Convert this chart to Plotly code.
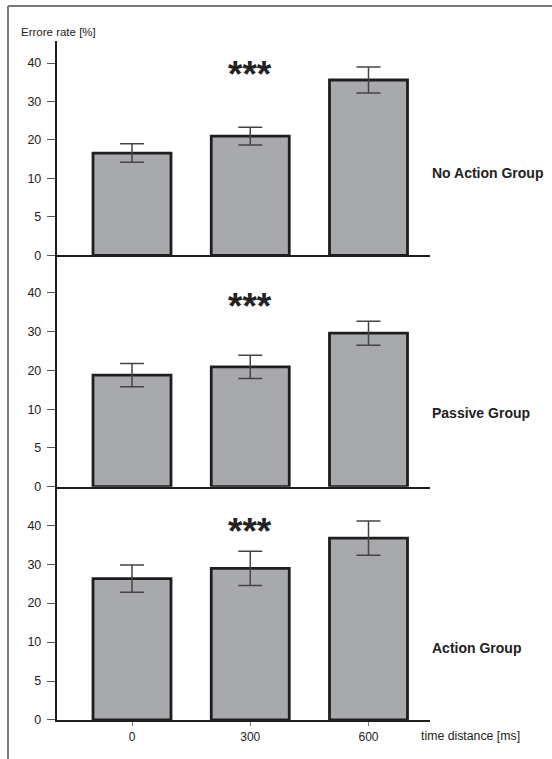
import numpy as np
import plotly.graph_objects as go

# ---- data -------------------------------------------------------------
time_labels = ["0", "300", "600"]
groups = ["No Action Group", "Passive Group", "Action Group"]

no_action_rate = [16.6, 21.0, 35.6]
no_action_sem = [2.4, 2.3, 3.4]

passive_rate = [18.8, 20.9, 29.6]
passive_sem = [3.0, 3.0, 3.1]

action_rate = [26.3, 28.9, 36.7]
action_sem = [3.5, 4.4, 4.4]

significance = ["***", "***", "***"]

y_tick_values = [0, 5, 10, 20, 30, 40]

# ---- the y scale: equal spacing between successive tick values ----------
tick_pos = np.arange(len(y_tick_values), dtype=float)


def to_axis(v):
    v = np.asarray(v, dtype=float)
    out = np.interp(v, y_tick_values, tick_pos)
    above = v > y_tick_values[-1]
    slope = 1.0 / (y_tick_values[-1] - y_tick_values[-2])
    out[above] = tick_pos[-1] + (v[above] - y_tick_values[-1]) * slope
    return out


# ---- layout geometry ---------------------------------------------------------
W = 552
H_LAYOUT = 767          # figure height requested from plotly
H = 759                 # visible page height used for placing things (px)
FONT = "Liberation Sans, Arial, Helvetica, sans-serif"


def py(px):
    """paper y fraction for a pixel row measured from the top"""
    return 1 - px / H


x_left, x_right = 57, 430            # x-axis extent (px)
bar_centres = [132, 250.25, 368.5]  # px positions of the three categories
unit = bar_centres[1] - bar_centres[0]
x_range = [(x_left - bar_centres[0]) / unit, (x_right - bar_centres[0]) / unit]

panel_zero = [255, 486, 719]        # px of each panel's baseline
panel_top = [41, 255, 486]          # px of each panel's top
px_per_step = [38.4, 38.7, 38.9]
label_y = [173, 412, 647]
star_y = [70, 302, 527]

series = [
    (no_action_rate, no_action_sem),
    (passive_rate, passive_sem),
    (action_rate, action_sem),
]

fig = go.Figure()
layout = dict(
    width=W, height=H_LAYOUT, autosize=False,
    margin=dict(l=0, r=0, t=0, b=0),
    paper_bgcolor="white",
    plot_bgcolor="white",
    showlegend=False,
    bargap=1 - 78 / unit,
    font=dict(family=FONT, color="#222"),
)

annotations = []
for i, (rate, sem) in enumerate(series):
    k = "" if i == 0 else str(i + 1)
    rate = np.asarray(rate)
    sem = np.asarray(sem)
    y = to_axis(rate)
    err_hi = to_axis(rate + sem) - y
    err_lo = y - to_axis(rate - sem)

    fig.add_trace(go.Bar(
        x=time_labels, y=y,
        xaxis="x" + k, yaxis="y" + k,
        marker=dict(color="#a8a9ac", line=dict(color="#1e1e1e", width=2.8)),
        error_y=dict(type="data", symmetric=False, array=err_hi, arrayminus=err_lo,
                     color="#444", thickness=1.5, width=12),
    ))

    bottom = i == len(series) - 1
    layout["xaxis" + k] = dict(
        domain=[x_left / W, x_right / W],
        anchor="y" + k,
        type="category",
        range=x_range,
        showline=True, linecolor="#1e1e1e", linewidth=2.4,
        showgrid=False, zeroline=False,
        ticks="outside" if bottom else "", ticklen=4, tickcolor="#777", tickwidth=1,
        showticklabels=bottom,
        tickfont=dict(family=FONT, size=12, color="#222"),
    )
    layout["yaxis" + k] = dict(
        domain=[py(panel_zero[i]), py(panel_top[i])],
        anchor="x" + k,
        range=[0, (panel_zero[i] - panel_top[i]) / px_per_step[i]],
        showline=True, linecolor="#1e1e1e", linewidth=2.4,
        showgrid=False, zeroline=False,
        tickmode="array", tickvals=tick_pos,
        ticktext=[str(t) for t in y_tick_values],
        ticks="outside", ticklen=8, tickcolor="#555", tickwidth=1,
        ticklabelstandoff=3,
        tickfont=dict(family=FONT, size=12.5, color="#222"),
    )

    annotations.append(dict(
        text="<b>%s</b>" % groups[i], xref="paper", yref="paper",
        x=430 / W, y=py(label_y[i]), xanchor="left", yanchor="middle",
        showarrow=False, font=dict(family=FONT, size=14, color="#222"),
    ))
    # significance stars above the middle (300 ms) bar
    annotations.append(dict(
        text="<b>%s</b>" % significance[i], xref="x" + k, yref="paper",
        x=1, y=py(star_y[i] + 4),
        xanchor="center", yanchor="middle",
        showarrow=False, font=dict(family=FONT, size=37, color="#222"),
    ))

annotations.append(dict(
    text="Errore rate [%]", xref="paper", yref="paper",
    x=19 / W, y=py(32), xanchor="left", yanchor="middle",
    showarrow=False, font=dict(family=FONT, size=11.5, color="#222"),
))
annotations.append(dict(
    text="time distance [ms]", xref="paper", yref="paper",
    x=419 / W, y=py(735), xanchor="left", yanchor="middle",
    showarrow=False, font=dict(family=FONT, size=12.3, color="#222"),
))

layout["annotations"] = annotations

# outer frame (top and left edges visible)
layout["shapes"] = [
    dict(type="line", xref="paper", yref="paper",
         x0=8 / W, x1=1.0, y0=py(6), y1=py(6),
         line=dict(color="#7a7a7a", width=2)),
    dict(type="line", xref="paper", yref="paper",
         x0=8 / W, x1=8 / W, y0=py(6), y1=py(H + 10),
         line=dict(color="#7a7a7a", width=2)),
]

fig.update_layout(**layout)
fig.write_html("out.html", config={"responsive": False})
